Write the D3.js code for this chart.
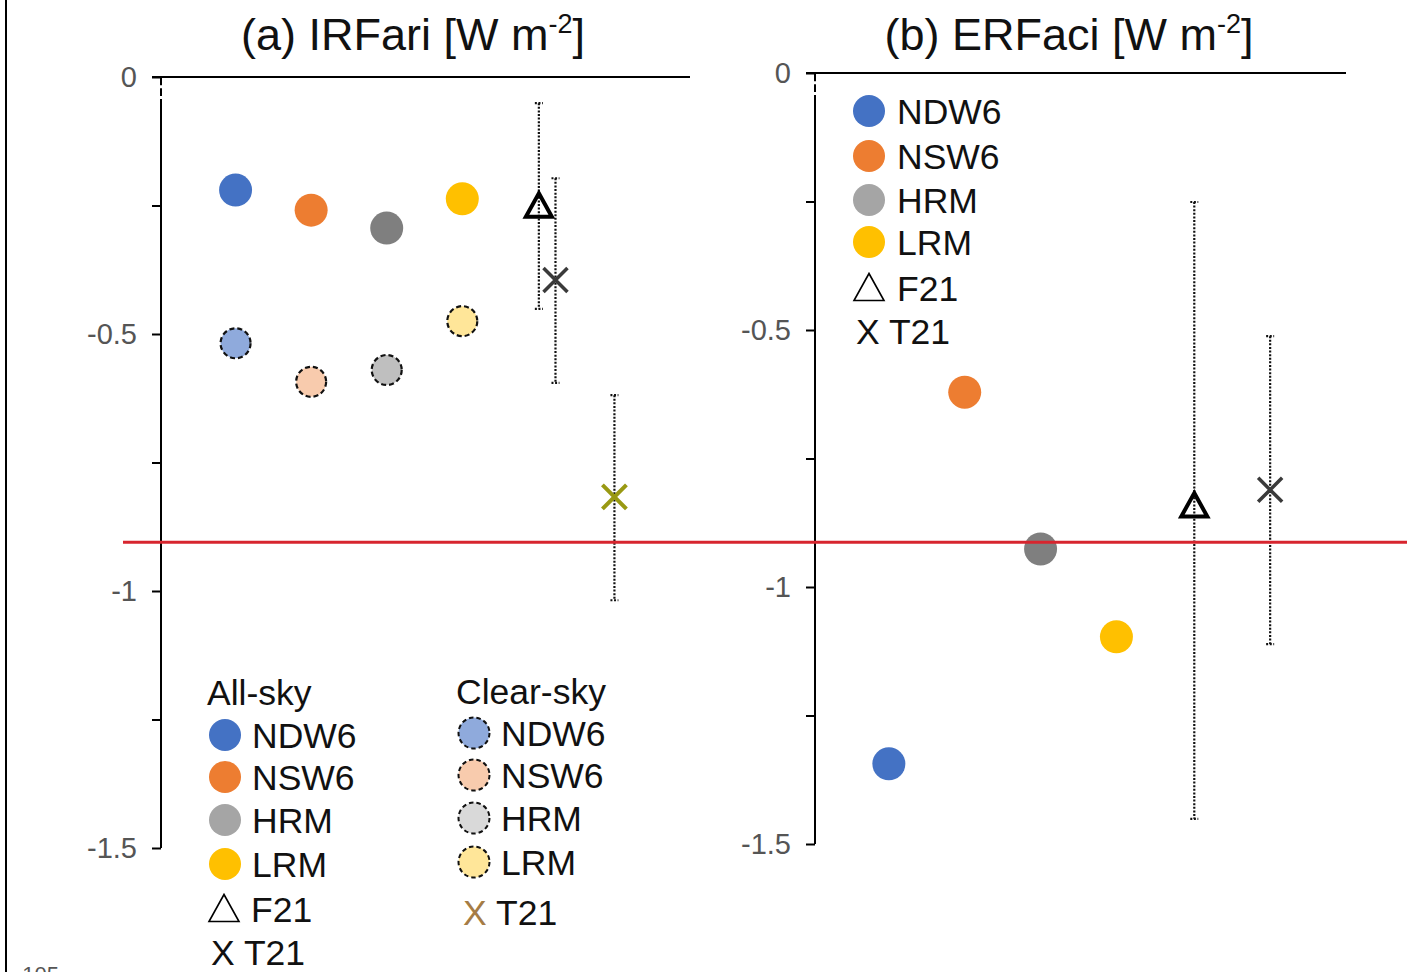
<!DOCTYPE html>
<html>
<head>
<meta charset="utf-8">
<script src="https://cdn.jsdelivr.net/npm/d3@7"></script>
<style>
  html, body { margin: 0; padding: 0; background: #fff; }
  svg { display: block; font-family: "Liberation Sans", Arial, Helvetica, sans-serif; }
</style>
</head>
<body>
<svg id="chart" width="1417" height="972"></svg>
<script>
// ---- data ----------------------------------------------------------------
const models = ["NDW6", "NSW6", "HRM", "LRM"];
const modelPos = [1, 2, 3, 4];

// (a) IRFari, W m-2
const irfAllSky   = [-0.220, -0.259, -0.294, -0.237];
const irfClearSky = [-0.518, -0.593, -0.570, -0.475];
const irfF21      = { x: 5,    value: -0.249, low: -0.451, high: -0.051 };
const irfT21      = { x: 5.22, value: -0.395, low: -0.595, high: -0.197 };
const irfT21Clear = { x: 6,    value: -0.817, low: -1.018, high: -0.619 };

// (b) ERFaci, W m-2
const erfAllSky = [-1.344, -0.621, -0.926, -1.097];
const erfF21    = { x: 5, value: -0.840, low: -1.451, high: -0.251 };
const erfT21    = { x: 6, value: -0.811, low: -1.111, high: -0.512 };

const yTickValues = [0, -0.5, -1, -1.5];
const yTickLabels = ["0", "-0.5", "-1", "-1.5"];
const yMinorTicks = [-0.25, -0.75, -1.25];
const refLineValue = -0.905;

// ---- styles ----------------------------------------------------------------
const allSkyFill   = ["#4472C4", "#ED7D31", "#7F7F7F", "#FFC000"];
const allSkyLegend = ["#4472C4", "#ED7D31", "#A5A5A5", "#FFC000"];
const clearFill    = ["#8FAADC", "#F8CBAD", "#BFBFBF", "#FFE699"];
const clearLegend  = ["#8FAADC", "#F8CBAD", "#D9D9D9", "#FFE699"];
const crossGrey = "#3a3a3a";
const crossOlive = "#999913";
const crossBrown = "#A57C45";
const legendFont = 35.5;

const svg = d3.select("#chart");

// left frame rule
svg.append("line").attr("x1", 6).attr("x2", 6).attr("y1", 0).attr("y2", 972)
  .attr("stroke", "#000").attr("stroke-width", 2);
svg.append("text").attr("x", 15).attr("y", 982).attr("font-size", 22)
  .attr("fill", "#555").text("-105");

function panel(opts) {
  const g = svg.append("g");
  const x = d3.scaleLinear().domain([0, 7]).range([opts.x0, opts.x1]);
  const y = d3.scaleLinear().domain([0, -1.5]).range([opts.y0, opts.y0 + 771]);

  // title
  const t = g.append("text").attr("x", opts.titleX).attr("y", 50)
    .attr("text-anchor", "middle").attr("font-size", 45).attr("fill", "#111");
  t.append("tspan").text(opts.title + " [W m");
  t.append("tspan").attr("font-size", 27).attr("dy", -17).text("-2");
  t.append("tspan").attr("dy", 17).text("]");

  // top axis line at zero
  g.append("line").attr("x1", opts.x0 - 9).attr("x2", opts.x1)
    .attr("y1", y(0)).attr("y2", y(0)).attr("stroke", "#000").attr("stroke-width", 2);

  // vertical axis with ticks
  const axis = d3.axisLeft(y).tickValues(yTickValues.concat(yMinorTicks))
    .tickSize(9).tickFormat(() => "");
  const ag = g.append("g").attr("transform", `translate(${opts.x0},0)`).call(axis);
  ag.select(".domain").remove();
  ag.selectAll(".tick line").attr("stroke", "#000").attr("stroke-width", 2);
  // axis line with small break near the top
  g.append("line").attr("x1", opts.x0).attr("x2", opts.x0)
    .attr("y1", y(0)).attr("y2", y(-0.016)).attr("stroke", "#000").attr("stroke-width", 2);
  g.append("line").attr("x1", opts.x0).attr("x2", opts.x0)
    .attr("y1", y(-0.022)).attr("y2", y(-0.037)).attr("stroke", "#000").attr("stroke-width", 2);
  g.append("line").attr("x1", opts.x0).attr("x2", opts.x0)
    .attr("y1", y(-0.043)).attr("y2", y(-1.5)).attr("stroke", "#000").attr("stroke-width", 2);

  g.selectAll("text.ylab").data(yTickValues).join("text").attr("class", "ylab")
    .attr("x", opts.x0 - 24).attr("y", d => y(d) + 10)
    .attr("text-anchor", "end").attr("font-size", 29).attr("fill", "#555")
    .text((d, i) => yTickLabels[i]);

  return { g, x, y };
}

function errorBar(p, d) {
  const xx = p.x(d.x);
  const dot = { stroke: "#111", "stroke-width": 2.2, "stroke-dasharray": "2,1.6" };
  const l = p.g.append("line").attr("x1", xx).attr("x2", xx)
    .attr("y1", p.y(d.high)).attr("y2", p.y(d.low));
  Object.entries(dot).forEach(([k, v]) => l.attr(k, v));
  [d.high, d.low].forEach(v => {
    const c = p.g.append("line").attr("x1", xx - 4).attr("x2", xx + 4)
      .attr("y1", p.y(v)).attr("y2", p.y(v));
    Object.entries(dot).forEach(([k, val]) => c.attr(k, val));
  });
}

function triangle(g, cx, cy, size, sw) {
  const h = size * 0.9;
  g.append("path")
    .attr("d", `M${cx},${cy - h / 2} L${cx + size / 2},${cy + h / 2} L${cx - size / 2},${cy + h / 2} Z`)
    .attr("fill", "none").attr("stroke", "#000").attr("stroke-width", sw)
    .attr("stroke-linejoin", "miter");
}

function cross(g, cx, cy, r, color, sw) {
  g.append("path")
    .attr("d", `M${cx - r},${cy - r} L${cx + r},${cy + r} M${cx - r},${cy + r} L${cx + r},${cy - r}`)
    .attr("stroke", color).attr("stroke-width", sw).attr("fill", "none");
}

// ---- panel (a) ------------------------------------------------------------
const pa = panel({ x0: 161, x1: 690, y0: 77, titleX: 413, title: "(a) IRFari" });

errorBar(pa, irfF21);
errorBar(pa, irfT21);
errorBar(pa, irfT21Clear);

pa.g.selectAll("circle.all").data(models).join("circle").attr("class", "all")
  .attr("cx", (d, i) => pa.x(modelPos[i]) - 1).attr("cy", (d, i) => pa.y(irfAllSky[i]))
  .attr("r", 16.5).attr("fill", (d, i) => allSkyFill[i]);

pa.g.selectAll("circle.clear").data(models).join("circle").attr("class", "clear")
  .attr("cx", (d, i) => pa.x(modelPos[i]) - 1).attr("cy", (d, i) => pa.y(irfClearSky[i]))
  .attr("r", 15).attr("fill", (d, i) => clearFill[i])
  .attr("stroke", "#111").attr("stroke-width", 2.2).attr("stroke-dasharray", "5,3");

triangle(pa.g, pa.x(irfF21.x), pa.y(irfF21.value), 26, 4);
cross(pa.g, pa.x(irfT21.x), pa.y(irfT21.value), 12, crossGrey, 3.5);
cross(pa.g, pa.x(irfT21Clear.x), pa.y(irfT21Clear.value), 12, crossOlive, 4);

// legend (a)
const la = svg.append("g");
la.append("text").attr("x", 207).attr("y", 705).attr("font-size", legendFont).attr("fill", "#111").text("All-sky");
la.append("text").attr("x", 456).attr("y", 704).attr("font-size", legendFont).attr("fill", "#111").text("Clear-sky");
const rowsA = [735, 777, 820, 864];
const rowsC = [733, 775, 818, 862];
models.forEach((m, i) => {
  la.append("circle").attr("cx", 225).attr("cy", rowsA[i]).attr("r", 16).attr("fill", allSkyLegend[i]);
  la.append("text").attr("x", 252).attr("y", rowsA[i] + 13).attr("font-size", legendFont).attr("fill", "#111").text(m);
  la.append("circle").attr("cx", 474).attr("cy", rowsC[i]).attr("r", 15.5).attr("fill", clearLegend[i])
    .attr("stroke", "#111").attr("stroke-width", 2).attr("stroke-dasharray", "4.5,3");
  la.append("text").attr("x", 501).attr("y", rowsC[i] + 13).attr("font-size", legendFont).attr("fill", "#111").text(m);
});
triangle(la, 224, 908, 30, 1.6);
la.append("text").attr("x", 251).attr("y", 922).attr("font-size", legendFont).attr("fill", "#111").text("F21");
la.append("text").attr("x", 211).attr("y", 965).attr("font-size", legendFont).attr("fill", "#111").text("X T21");
la.append("text").attr("x", 463).attr("y", 925).attr("font-size", legendFont).attr("fill", crossBrown).text("X");
la.append("text").attr("x", 496).attr("y", 925).attr("font-size", legendFont).attr("fill", "#111").text("T21");

// ---- panel (b) ------------------------------------------------------------
const pb = panel({ x0: 815, x1: 1346, y0: 73, titleX: 1069, title: "(b) ERFaci" });

errorBar(pb, erfF21);
errorBar(pb, erfT21);

pb.g.selectAll("circle.all").data(models).join("circle").attr("class", "all")
  .attr("cx", (d, i) => pb.x(modelPos[i]) - 2).attr("cy", (d, i) => pb.y(erfAllSky[i]))
  .attr("r", 16.5).attr("fill", (d, i) => allSkyFill[i]);

triangle(pb.g, pb.x(erfF21.x), pb.y(erfF21.value), 26, 4);
cross(pb.g, pb.x(erfT21.x), pb.y(erfT21.value), 12, crossGrey, 3.5);

// legend (b)
const lb = svg.append("g");
const rowsB = [111, 156, 200, 242];
models.forEach((m, i) => {
  lb.append("circle").attr("cx", 869).attr("cy", rowsB[i]).attr("r", 16).attr("fill", allSkyLegend[i]);
  lb.append("text").attr("x", 897).attr("y", rowsB[i] + 13).attr("font-size", legendFont).attr("fill", "#111").text(m);
});
triangle(lb, 869, 287, 30, 1.6);
lb.append("text").attr("x", 897).attr("y", 301).attr("font-size", legendFont).attr("fill", "#111").text("F21");
lb.append("text").attr("x", 856).attr("y", 344).attr("font-size", legendFont).attr("fill", "#111").text("X T21");

// ---- reference line --------------------------------------------------------
svg.append("line").attr("x1", 123).attr("x2", 1407)
  .attr("y1", pa.y(refLineValue)).attr("y2", pa.y(refLineValue))
  .attr("stroke", "#D7252E").attr("stroke-width", 3);
</script>
</body>
</html>
